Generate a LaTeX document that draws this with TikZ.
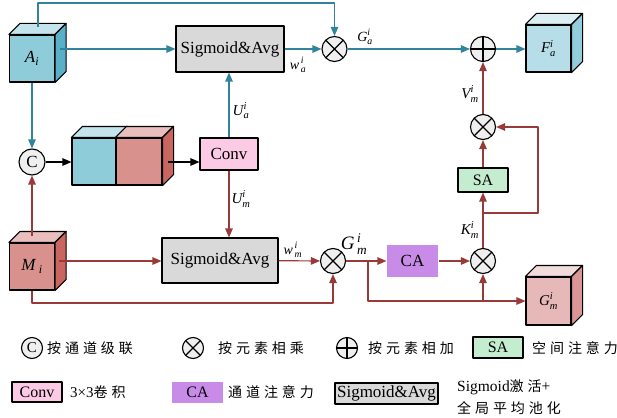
\documentclass[tikz,border=0pt]{standalone}
\usepackage{fontspec}
\usepackage{amsmath}
\setmainfont{Liberation Serif}
\newfontfamily\cjk[LetterSpace=28]{Noto Sans CJK SC}
\usetikzlibrary{arrows.meta,calc}
\definecolor{tl}{HTML}{31849B}
\definecolor{rl}{HTML}{983A37}
\definecolor{bfront}{HTML}{8FCCDA}
\definecolor{btop}{HTML}{C3E4EC}
\definecolor{bside}{HTML}{5AB0C6}
\definecolor{ffront}{HTML}{B7DEE8}
\definecolor{ftop}{HTML}{DAEEF3}
\definecolor{fside}{HTML}{92CDDC}
\definecolor{rfront}{HTML}{D9918E}
\definecolor{rtop}{HTML}{E9BEBC}
\definecolor{rside}{HTML}{C8665F}
\definecolor{gfront}{HTML}{E6B8B7}
\definecolor{gtop}{HTML}{F2DCDB}
\definecolor{gside}{HTML}{D99694}
\definecolor{sgray}{HTML}{D9D9D9}
\definecolor{pinkc}{HTML}{FCCAE4}
\definecolor{greenc}{HTML}{C4EDD0}
\definecolor{purplec}{HTML}{C88CE8}
\definecolor{cgray}{HTML}{EFEFEF}
\newcommand\cubefaces[3]{%
  \draw[face,fill=#2] (#1.north west) -- ++(11,-11) -- ($(#1.north east)+(11,-11)$) -- (#1.north east) -- cycle;
  \draw[face,fill=#3] (#1.north east) -- ++(11,-11) -- ($(#1.south east)+(11,-11)$) -- (#1.south east) -- cycle;}
\begin{document}
\begin{tikzpicture}[x=1pt,y=-1pt,line join=round,
  bl/.style={draw=tl,line width=1.2pt},
  rd/.style={draw=rl,line width=1.2pt},
  bk/.style={draw=black,line width=1.2pt},
  arr/.style={-{Triangle[length=9pt,width=7.5pt]}},
  face/.style={draw=black,line width=1.1pt,inner sep=0pt},
  box/.style={draw=black,line width=1.1pt,inner sep=0pt,font=\fontsize{17}{17}\selectfont},
  opc/.style={circle,draw=black,line width=1.1pt,fill=cgray,minimum size=25pt,inner sep=0pt},
  otimes/.style={opc,path picture={\draw[line width=1.1pt] (path picture bounding box.north west)--(path picture bounding box.south east) (path picture bounding box.north east)--(path picture bounding box.south west);}},
  oplus/.style={opc,path picture={\draw[line width=1.1pt] (path picture bounding box.north)--(path picture bounding box.south) (path picture bounding box.east)--(path picture bounding box.west);}},
  lbl/.style={inner sep=0pt,font=\fontsize{14}{14}\selectfont},
  ltxt/.style={inner sep=0pt,anchor=west,font=\fontsize{14}{14}\selectfont},
]
\useasboundingbox (0,0) rectangle (617,417);

% cubes
\node[face,fill=bfront,minimum width=45pt,minimum height=47pt] (A) at (32,58.5) {\fontsize{17}{17}\selectfont\raisebox{-4pt}{$\textit{A}_{\textit{i}}$}};
\cubefaces{A}{btop}{bside}
\node[face,fill=rfront,minimum width=45pt,minimum height=47pt] (M) at (32,266.5) {\fontsize{17}{17}\selectfont$\textit{M}_{\;\textit{i}}$};
\cubefaces{M}{rtop}{rside}
\node[face,fill=ffront,minimum width=45pt,minimum height=47pt] (F) at (548.5,48.5) {\fontsize{15}{15}\selectfont$\textit{F}^{\textit{i}}_{\textit{a}}$};
\cubefaces{F}{ftop}{fside}
\node[face,fill=gfront,minimum width=45pt,minimum height=48pt] (Gc) at (548.5,301) {\fontsize{15}{15}\selectfont$\textit{G}^{\textit{i}}_{\textit{m}}$};
\cubefaces{Gc}{gtop}{gside}
\node[face,fill=bfront,minimum width=44pt,minimum height=47pt] (cb) at (94,161.5) {};
\node[face,fill=rfront,minimum width=46pt,minimum height=47pt] (cr) at (139,161.5) {};
\draw[face,fill=btop] (cb.north west) -- ++(11,-11) -- ($(cb.north east)+(11,-11)$) -- (cb.north east) -- cycle;
\cubefaces{cr}{rtop}{rside}

% operators
\node[opc,font=\fontsize{17}{17}\selectfont,minimum size=26pt] (C) at (32,162) {C};
\node[otimes] (ot1) at (334.5,49) {};
\node[oplus] (op) at (483,49) {};
\node[otimes] (ot4) at (483,127) {};
\node[otimes] (ot3) at (483,261) {};
\node[otimes] (ot2) at (333,261) {};

% boxes
\node[box,fill=sgray,minimum width=108pt,minimum height=46pt] (sig1) at (230,49) {Sigmoid\&Avg};
\node[box,fill=sgray,minimum width=116pt,minimum height=45pt] (sig2) at (220,260.5) {Sigmoid\&Avg};
\node[box,fill=pinkc,minimum width=58pt,minimum height=32pt] (conv) at (229,154) {Conv};
\node[box,fill=greenc,minimum width=50pt,minimum height=24pt,font=\fontsize{16}{16}\selectfont] (SA) at (483,180) {SA};
\node[box,draw=none,fill=purplec,minimum width=51pt,minimum height=32pt] (CA) at (412.5,261) {CA};

% coordinates
\coordinate (Atop) at (38,27);
\coordinate (Aout) at (60,49);
\coordinate (Mtop) at (32,236);
\coordinate (Mout) at (59,261);
\coordinate (ccout) at (168,162);
\coordinate (br1) at (368,261);
\coordinate (br2) at (483,301);
\coordinate (br3) at (483,213);

% blue connectors
\draw[bl,arr] (Atop) -- (38,3) -| (ot1);
\draw[bl,arr] (Aout) -- (sig1);
\draw[bl,arr] (sig1) -- (ot1);
\draw[bl,arr] (ot1) -- (op);
\draw[bl,arr] (op) -- (F.west |- op);
\draw[bl,arr] (A.south) -- (C.north);
\draw[bl,arr] (conv.north) -- (conv.north |- sig1.south);

% black connectors
\draw[bk,arr] (C) -- (cb.west |- C);
\draw[bk,arr] (ccout) -- (conv.west |- ccout);

% red connectors
\draw[rd,arr] (Mtop) -- (C.south);
\draw[rd,arr] (conv.south) -- (conv.south |- sig2.north);
\draw[rd,arr] (Mout) -- (sig2.west |- Mout);
\draw[rd,arr] (sig2) -- (ot2);
\draw[rd,arr] (M.south) -- (32,303) -| (ot2);
\draw[rd,arr] (ot2) -- (CA);
\draw[rd,arr] (br1) |- (Gc.west |- br2);
\draw[rd,arr] (br2) -- (ot3);
\draw[rd,arr] (CA) -- (ot3);
\draw[rd,arr] (ot3) -- (SA);
\draw[rd,arr] (br3) -- (538,213) |- (ot4);
\draw[rd,arr] (SA) -- (ot4);
\draw[rd,arr] (ot4) -- (op);

% labels
\node[lbl] (lwa) at (298,65) {$\textit{w}^{\,\textit{i}}_{\,\textit{a}}$};
\node[lbl] (lGa) at (365,37) {$\textit{G}^{\textit{i}}_{\textit{a}}$};
\node[lbl,font=\fontsize{15}{15}\selectfont] (lUa) at (241,111) {$\textit{U}^{\textit{i}}_{\textit{a}}$};
\node[lbl,font=\fontsize{15}{15}\selectfont] (lUm) at (241,199) {$\textit{U}^{\textit{i}}_{\textit{m}}$};
\node[lbl] (lwm) at (293,250) {$\textit{w}^{\,\textit{i}}_{\,\textit{m}}$};
\node[lbl,font=\fontsize{19}{19}\selectfont] (lGm) at (354,244) {$\textit{G}^{\,\textit{i}}_{\,\textit{m}}$};
\node[lbl,font=\fontsize{15}{15}\selectfont] (lKm) at (470,230) {$\textit{K}^{\textit{i}}_{\textit{m}}$};
\node[lbl,font=\fontsize{15}{15}\selectfont] (lVm) at (470,94) {$\textit{V}^{\textit{i}}_{\textit{m}}$};

% legend
\node[opc,minimum size=21pt,font=\fontsize{15}{15}\selectfont] (lgC) at (32,348) {C};
\node[ltxt] (lgt1) at (47,348) {\cjk 按通道级联};
\node[otimes,minimum size=21pt] (lgot) at (193,348) {};
\node[ltxt] (lgt2) at (218,348) {\cjk 按元素相乘};
\node[oplus,minimum size=21pt] (lgop) at (347,348) {};
\node[ltxt] (lgt3) at (368,348) {\cjk 按元素相加};
\node[box,fill=greenc,minimum width=50pt,minimum height=21pt,font=\fontsize{16}{16}\selectfont] (lgSA) at (498,347.5) {SA};
\node[ltxt] (lgt4) at (532,348) {\cjk 空间注意力};
\node[box,fill=pinkc,minimum width=50pt,minimum height=20pt,font=\fontsize{16}{16}\selectfont] (lgconv) at (37,392) {Conv};
\node[ltxt,font=\fontsize{15}{15}\selectfont] (lgt5) at (70,392) {3×3{\fontsize{14}{14}\selectfont\cjk 卷积}};
\node[box,draw=none,fill=purplec,minimum width=51pt,minimum height=21pt,font=\fontsize{16}{16}\selectfont] (lgCA) at (197.5,392.5) {CA};
\node[ltxt] (lgt6) at (228,392) {\cjk 通道注意力};
\node[box,fill=sgray,minimum width=103pt,minimum height=21pt] (lgsig) at (386.5,393.5) {Sigmoid\&Avg};
\node[ltxt,font=\fontsize{15.5}{15.5}\selectfont] (lgt7) at (457,387) {Sigmoid{\fontsize{14}{14}\selectfont\cjk 激活}+};
\node[ltxt] (lgt8) at (457,408) {\cjk 全局平均池化};
\end{tikzpicture}
\end{document}
